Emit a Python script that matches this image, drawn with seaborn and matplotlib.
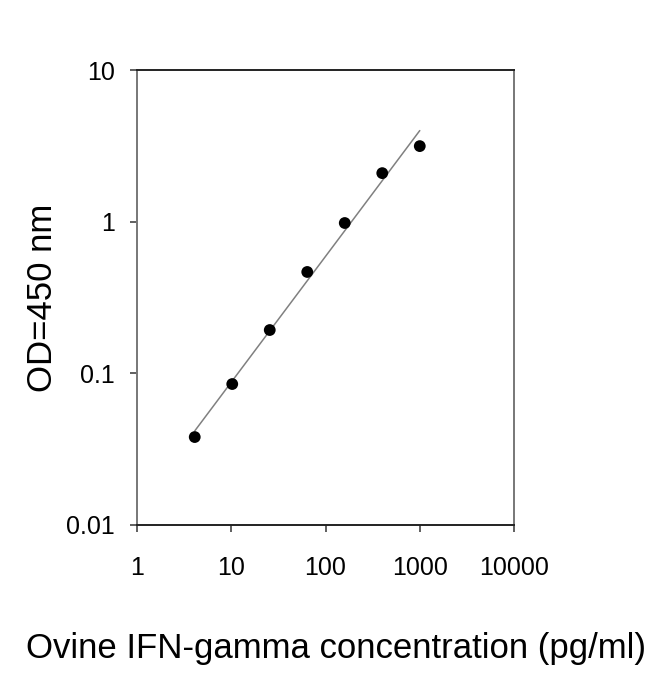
import numpy as np
import pandas as pd
import matplotlib
matplotlib.use("Agg")
import matplotlib.pyplot as plt
import seaborn as sns

# Standardkurve
konsentrasjon = [4.096, 10.24, 25.6, 64, 160, 400, 1000]
od_450 = [0.038, 0.085, 0.193, 0.466, 0.98, 2.09, 3.15]

x_ticks = [1, 10, 100, 1000, 10000]
x_tick_labels = ["1", "10", "100", "1000", "10000"]
y_ticks = [0.01, 0.1, 1, 10]
y_tick_labels = ["0.01", "0.1", "1", "10"]

sns.set_theme(style="white")
plt.rcParams['font.family'] = ['Liberation Sans', 'DejaVu Sans']
plt.rcParams['text.color'] = 'black'
plt.rcParams['axes.labelcolor'] = 'black'
plt.rcParams['xtick.color'] = 'black'
plt.rcParams['ytick.color'] = 'black'

df = pd.DataFrame({"konsentrasjon": konsentrasjon, "od": od_450})

# Lineær regresjon i log-log rom
helning, skjaering = np.polyfit(np.log10(df["konsentrasjon"]), np.log10(df["od"]), 1)
fit_x = np.array([df["konsentrasjon"].min(), df["konsentrasjon"].max()])
fit_y = 10 ** (skjaering + helning * np.log10(fit_x))

fig = plt.figure(figsize=(6.5, 6.74), dpi=100)
ax = fig.add_axes([0.2108, 0.2211, 0.58, 0.675])

sns.lineplot(x=fit_x, y=fit_y, ax=ax, color="#808080", linewidth=1.1)
sns.scatterplot(data=df, x="konsentrasjon", y="od", ax=ax, color="black",
                s=72, edgecolor="none", zorder=3)

ax.set_xscale("log")
ax.set_yscale("log")
ax.set_xlim(1, 10000)
ax.set_ylim(0.01, 10)
ax.set_xticks(x_ticks)
ax.set_xticklabels(x_tick_labels)
ax.set_yticks(y_ticks)
ax.set_yticklabels(y_tick_labels)
ax.minorticks_off()

ax.tick_params(axis="x", direction="out", length=5, width=1.2, color="#444444",
               labelsize=18, pad=17, bottom=True)
ax.tick_params(axis="y", direction="out", length=5, width=1.2, color="#444444",
               labelsize=18, pad=11, left=True)

for side in ["top", "bottom"]:
    ax.spines[side].set_color("#222222")
    ax.spines[side].set_linewidth(1.4)
for side in ["left", "right"]:
    ax.spines[side].set_color("#777777")
    ax.spines[side].set_linewidth(1.4)

ax.set_xlabel("Ovine IFN-gamma concentration (pg/ml)", fontsize=25, labelpad=38)
ax.xaxis.label.set_x(0.527)
ax.set_ylabel("OD=450 nm", fontsize=25, labelpad=5)

fig.savefig("out.png", dpi=100, facecolor="white")
